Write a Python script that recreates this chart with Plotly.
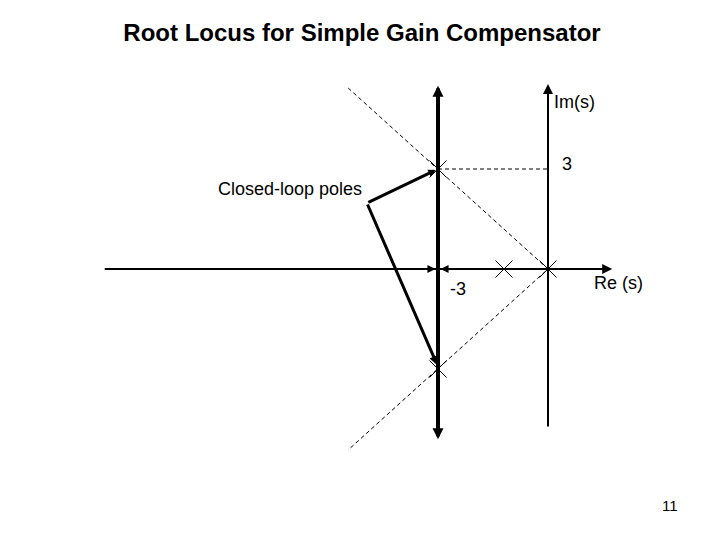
import plotly.graph_objects as go

# ---- data (s-plane values) ----
open_loop_re = [0.0, -1.2]          # open-loop poles on the real axis
open_loop_im = [0.0, 0.0]
closed_re = [-3.0, -3.0]            # closed-loop poles -3 ± j3
closed_im = [3.0, -3.0]
zeta_re = [-5.45, 0.0, -5.45]       # constant-damping (45°) lines through origin
zeta_im = [5.43, 0.0, -5.43]
im3_re = [-3.0, 0.0]                # dashed projection to Im = 3
im3_im = [3.0, 3.0]
re_axis = [-12.13, 1.75]
im_axis = [-4.77, 5.55]
locus_im = [-5.15, 5.5]
label_corner = [-4.94, 1.98]

FONT = "Liberation Sans, Arial, sans-serif"
OFF = 8  # page body margin

fig = go.Figure()

fig.add_trace(go.Scatter(x=zeta_re, y=zeta_im, mode="lines",
                         line=dict(color="black", width=1, dash="4px,3px"),
                         hoverinfo="skip"))
fig.add_trace(go.Scatter(x=im3_re, y=im3_im, mode="lines",
                         line=dict(color="black", width=1, dash="4px,3px"),
                         hoverinfo="skip"))
fig.add_trace(go.Scatter(x=open_loop_re + closed_re, y=open_loop_im + closed_im,
                         mode="markers",
                         marker=dict(symbol="x-thin", size=17,
                                     line=dict(color="black", width=1)),
                         hoverinfo="skip"))

ann = []
def arrow(x0, y0, x1, y1, w=2, head=2, size=1.0, side="end"):
    ann.append(dict(x=x1, y=y1, ax=x0, ay=y0, xref="x", yref="y",
                    axref="x", ayref="y", text="", showarrow=True,
                    arrowhead=head, arrowsize=size, arrowwidth=w,
                    arrowcolor="black", arrowside=side,
                    startarrowhead=head, startarrowsize=size))

arrow(re_axis[0], 0, re_axis[1], 0, w=2, size=1.0)
arrow(0, im_axis[0], 0, im_axis[1], w=2, size=1.0)
arrow(-3, locus_im[0], -3, locus_im[1], w=4, size=0.55, side="end+start")
arrow(-3.45, 0, -3.07, 0, w=2, size=0.8)
arrow(-2.55, 0, -2.93, 0, w=2, size=0.8)
arrow(label_corner[0], label_corner[1], closed_re[0] - 0.06, closed_im[0] - 0.03, w=3, size=0.5)
arrow(label_corner[0], label_corner[1], closed_re[1] - 0.02, closed_im[1] + 0.12, w=3, size=0.6)

def txt(x, y, s, size=18, xanchor="center"):
    ann.append(dict(x=x, y=y, xref="x", yref="y", text=s, showarrow=False,
                    xanchor=xanchor, yanchor="middle",
                    font=dict(family=FONT, size=size, color="black")))

txt(0.12, 5.0, "Im(s)", xanchor="left")
txt(0.33, 3.15, "3", xanchor="left")
txt(-2.72, -0.6, "-3", xanchor="left")
txt(1.2, -0.42, "Re (s)", xanchor="left")
txt(-7.05, 2.4, "Closed-loop poles")

ann.append(dict(x=(670-OFF)/720, y=1-(505-OFF)/540, xref="paper", yref="paper", text="11",
                showarrow=False, xanchor="center", yanchor="middle",
                font=dict(family=FONT, size=15, color="black")))

fig.update_layout(
    width=720, height=540,
    margin=dict(l=0, r=0, t=0, b=0),
    paper_bgcolor="white", plot_bgcolor="white",
    showlegend=False,
    annotations=ann,
    title=dict(text="<b>Root Locus for Simple Gain Compensator</b>",
               x=(362-OFF)/720, y=1-(33-OFF)/540, xanchor="center", yanchor="middle",
               font=dict(family=FONT, size=24, color="black")),
    xaxis=dict(range=[-(548-OFF)/36.667, (720-548+OFF)/36.667], visible=False, fixedrange=True),
    yaxis=dict(range=[(269-OFF-540)/33.333, (269-OFF)/33.333], visible=False, fixedrange=True),
)

fig.write_html("out.html")
